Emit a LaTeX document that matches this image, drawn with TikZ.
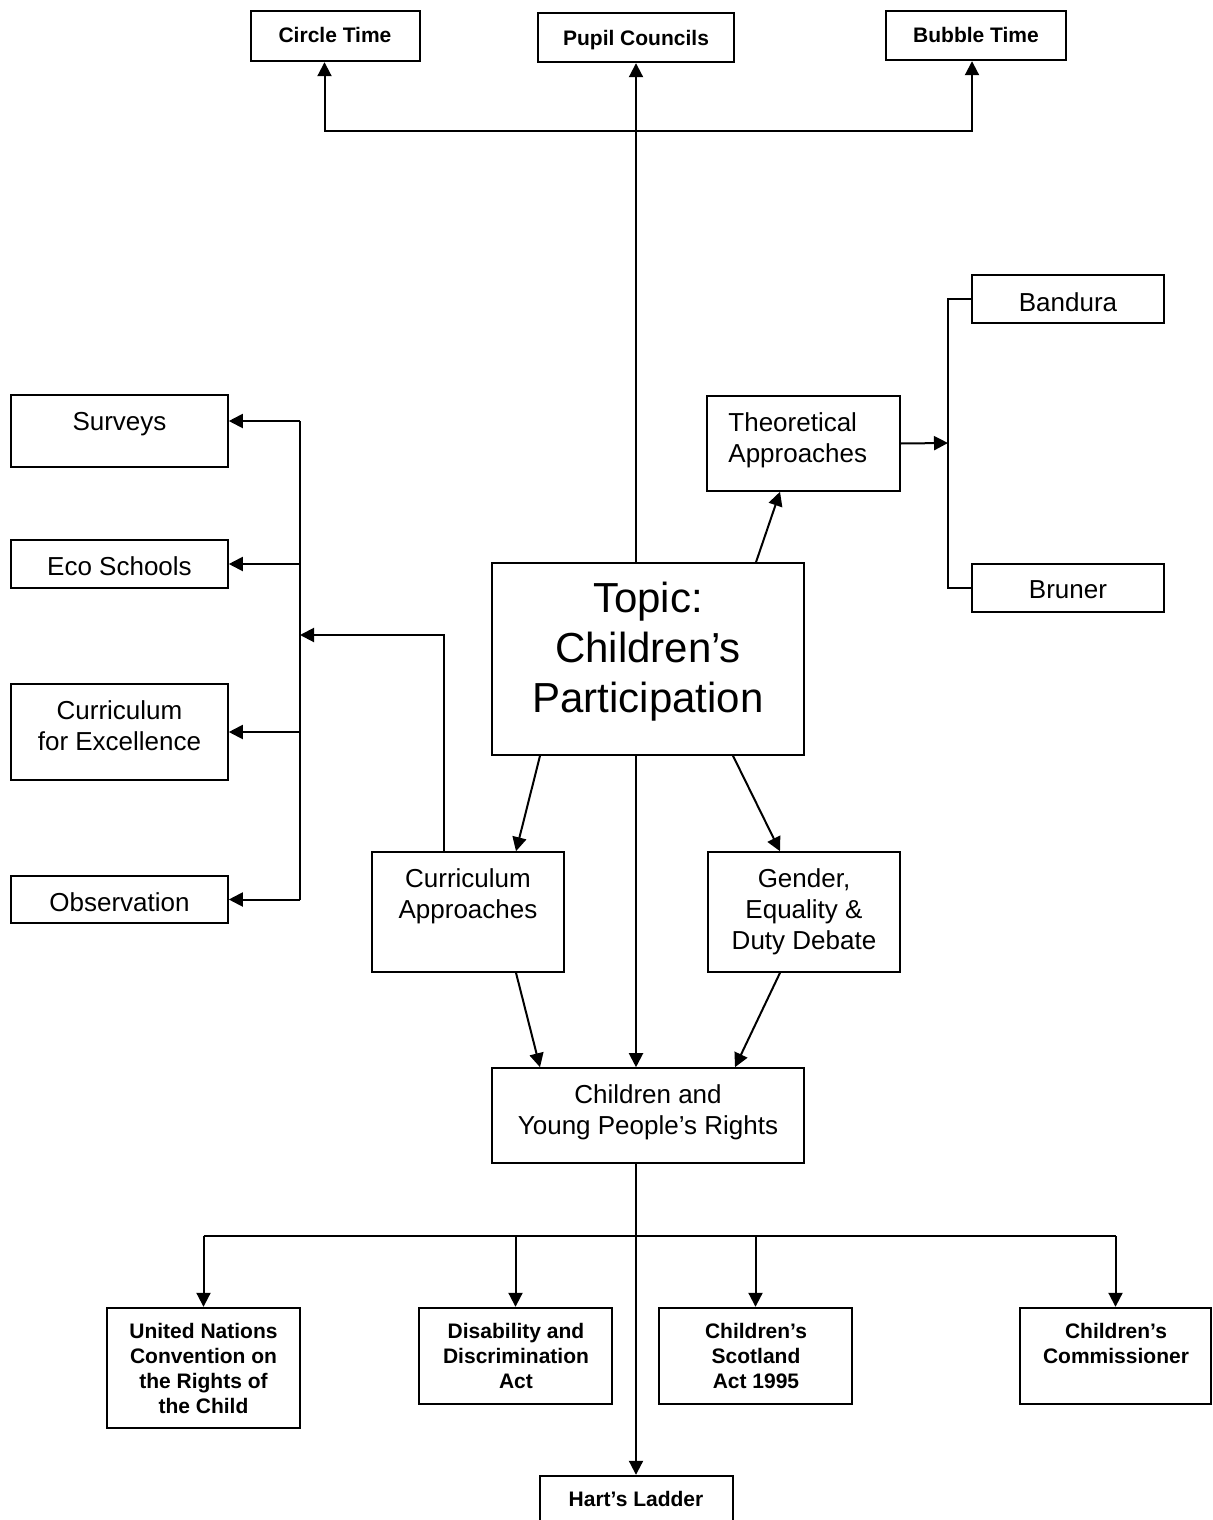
\documentclass[tikz,border=0pt]{standalone}
\usepackage{fontspec}
\setmainfont{Liberation Sans}
\usetikzlibrary{arrows.meta,fit,calc}
\newcommand\mkbox[6][]{\node[box,#1,inner sep=0pt,fit={(#3,#4) (#5,#6)}] (#2) {};}
\begin{document}
\begin{tikzpicture}[x=0.5pt,y=-0.5pt,
  box/.style={draw,line width=0.8pt},
  bbox/.style={line width=1.2pt},
  nt/.style={font=\fontsize{13}{15.5}\selectfont,align=center,inner sep=0pt},
  bt/.style={font=\bfseries\fontsize{10.5}{12.5}\selectfont,align=center,inner sep=0pt},
  tt/.style={font=\fontsize{21}{25}\selectfont,align=center,inner sep=0pt},
  conn/.style={line width=1pt},
  arr/.style={conn,-{Triangle[length=7pt,width=7pt]}}]
\useasboundingbox (0,0) rectangle (1212,1520);
% boxes
\mkbox[bbox]{circle}{251}{11}{420}{61}
\mkbox[bbox]{pupil}{538}{13}{734}{62}
\mkbox[bbox]{bubble}{886}{11}{1066}{60}
\mkbox{topic}{492}{563}{804}{755}
\mkbox{theo}{707}{396}{900}{491}
\mkbox{bandura}{972}{275}{1164}{323}
\mkbox{bruner}{972}{564}{1164}{612}
\mkbox{surveys}{11}{395}{228}{467}
\mkbox{eco}{11}{540}{228}{588}
\mkbox{cfe}{11}{684}{228}{780}
\mkbox{obs}{11}{876}{228}{923}
\mkbox{ca}{372}{852}{564}{972}
\mkbox{gender}{708}{852}{900}{972}
\mkbox{cypr}{492}{1068}{804}{1163}
\mkbox[bbox]{un}{107}{1308}{300}{1428}
\mkbox[bbox]{dis}{419}{1308}{612}{1404}
\mkbox[bbox]{scot}{659}{1308}{852}{1404}
\mkbox[bbox]{comm}{1020}{1308}{1211}{1404}
\mkbox[bbox]{hart}{540}{1476}{733}{1530}
% texts
\node[bt,anchor=north] (t-circle) at (335,27) {Circle Time};
\node[bt,anchor=north] (t-pupil) at (636,30) {Pupil Councils};
\node[bt,anchor=north] (t-bubble) at (976,27) {Bubble Time};
\node[tt,anchor=north] (t-topic) at (648,582) {Topic:\\Children’s\\Participation};
\node[nt,anchor=north west,align=left] (t-theo) at (728,412) {Theoretical\\Approaches};
\node[nt,anchor=north] (t-bandura) at (1068,292) {Bandura};
\node[nt,anchor=north] (t-bruner) at (1068,580) {Bruner};
\node[nt,anchor=north] (t-surveys) at (119.5,412) {Surveys};
\node[nt,anchor=north] (t-eco) at (119.5,556) {Eco Schools};
\node[nt,anchor=north] (t-cfe) at (119.5,700) {Curriculum\\for Excellence};
\node[nt,anchor=north] (t-obs) at (119.5,892) {Observation};
\node[nt,anchor=north] (t-ca) at (468,868) {Curriculum\\Approaches};
\node[nt,anchor=north] (t-gender) at (804,868) {Gender,\\Equality \&\\Duty Debate};
\node[nt,anchor=north] (t-cypr) at (648,1084) {Children and\\Young People’s Rights};
\node[bt,anchor=north] (t-un) at (203.5,1323) {United Nations\\Convention on\\the Rights of\\the Child};
\node[bt,anchor=north] (t-dis) at (516,1323) {Disability and\\Discrimination\\Act};
\node[bt,anchor=north] (t-scot) at (756,1323) {Children’s\\Scotland\\Act 1995};
\node[bt,anchor=north] (t-comm) at (1116,1323) {Children’s\\Commissioner};
\node[bt,anchor=north] (t-hart) at (636,1491) {Hart’s Ladder};
% top branch
\coordinate (brtop) at (636,131);
\draw[arr] (topic.north -| pupil.south) -- (pupil.south);
\draw[arr] (brtop) -| ($(circle.south)+(-11,0)$);
\draw[arr] (brtop) -| ($(bubble.south)+(-4,0)$);
% theoretical
\draw[arr] ($(topic.north)+(108,0)$) -- ($(theo.south)+(-23.5,0)$);
\coordinate (thv) at (948,443);
\draw[arr] (theo.east) -- (thv);
\draw[conn] (bandura.west) -| (thv) |- (bruner.west);
% topic to lower
\draw[arr] ($(topic.south)+(-108,0)$) -- ($(ca.north)+(48,0)$);
\draw[arr] ($(topic.south)+(85,0)$) -- ($(gender.north)+(-24,0)$);
\draw[arr] (topic.south -| cypr.north) ++(-12,0) coordinate (tsm) -- (tsm |- cypr.north);
% curriculum approaches to left column
\coordinate (lv) at (300,635);
\draw[arr] ($(ca.north)+(-24,0)$) |- (lv);
\coordinate (lvtop) at (300,421);
\draw[arr] (lvtop) -- (lvtop -| surveys.east);
\draw[conn] (lvtop) -- (lvtop |- obs.east);
\draw[arr] (lvtop |- eco.east) -- (eco.east);
\draw[arr] (lvtop |- cfe.east) -- (cfe.east);
\draw[arr] (lvtop |- obs.east) -- (obs.east);
% into rights
\draw[arr] ($(ca.south)+(48,0)$) -- ($(cypr.north)+(-108,0)$);
\draw[arr] ($(gender.south)+(-24,0)$) -- ($(cypr.north)+(87,0)$);
% below rights
\coordinate (brbot) at (636,1236);
\draw[arr] (cypr.south -| brbot) -- (hart.north -| brbot);
\draw[conn] (brbot -| un.north) -- (brbot -| comm.north);
\draw[arr] (brbot -| un.north) -- (un.north);
\draw[arr] (brbot -| dis.north) -- (dis.north);
\draw[arr] (brbot -| scot.north) -- (scot.north);
\draw[arr] (brbot -| comm.north) -- (comm.north);
\end{tikzpicture}
\end{document}
